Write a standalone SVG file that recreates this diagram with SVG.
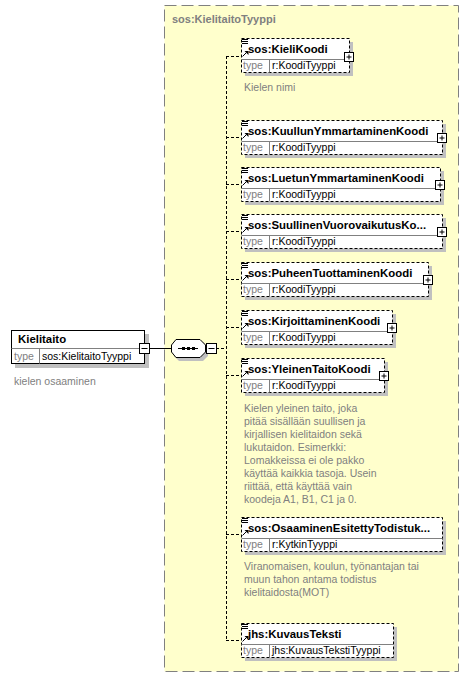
<svg xmlns="http://www.w3.org/2000/svg" width="470" height="679" viewBox="0 0 470 679">
<style>
text{font-family:"Liberation Sans",Arial,sans-serif;}
.t{font-size:11.4px;font-weight:bold;fill:#000;}
.n{font-size:10.5px;fill:#000;}
.g{font-size:10.5px;fill:#808080;}
.hdr{font-size:11px;font-weight:bold;fill:#808080;}
.sh{fill:#C0C0C0;}
.box{fill:#fff;stroke:#000;stroke-width:1;stroke-dasharray:3,2;}
.sbox{fill:#fff;stroke:#000;stroke-width:1;}
.div{stroke:#808080;stroke-width:1;fill:none;}
.ic{stroke:#000;stroke-width:1;fill:none;}
.pm{fill:#fff;stroke:#000;stroke-width:1;}
.dc{stroke:#000;stroke-width:1;fill:none;stroke-dasharray:3,2;}
</style>
<defs>
<g id="menu"><path class="ic" d="M1,1.5H7M1,3.5H7M1,5.5H7"/></g>
<g id="arr"><path class="ic" d="M1.5,18.5L5.5,14.5"/><path d="M3.5,13L7.5,13L7.5,17Z" fill="#000"/></g>
<g id="plus"><rect class="pm" x="0.5" y="0.5" width="9" height="9"/><path class="ic" d="M2.5,5H7.5M5,2.5V7.5"/></g>
</defs>

<g id="type-container">
<rect x="164.5" y="5.5" width="294" height="666" fill="#FFFFCC" stroke="#808080" stroke-width="1" stroke-dasharray="12,5"/>
<text class="hdr" x="172" y="23">sos:KielitaitoTyyppi</text>
</g>

<g id="connectors">
<path d="M149,348.5H171" stroke="#000" stroke-width="1"/>
<path class="dc" d="M216,348.5H226"/>
<path class="dc" d="M226.5,56V640"/>
<path class="dc" d="M226,56.5H241"/>
<path class="dc" d="M226,137.5H241"/>
<path class="dc" d="M226,184.5H241"/>
<path class="dc" d="M226,231.5H241"/>
<path class="dc" d="M226,279.5H241"/>
<path class="dc" d="M226,327.5H241"/>
<path class="dc" d="M226,375.5H241"/>
<path class="dc" d="M226,534.5H241"/>
<path class="dc" d="M226,640.5H241"/>
</g>

<g id="Kielitaito">
<rect class="sh" x="15" y="334" width="134" height="34"/>
<rect class="sbox" x="11.5" y="330.5" width="133" height="33"/>
<path class="div" d="M11.5,348.5H144.5M39.5,348.5V363.5"/>
<text class="t" x="18" y="343">Kielitaito</text>
<text class="g" x="14" y="360">type</text>
<text class="n" x="42" y="360">sos:KielitaitoTyyppi</text>
<rect class="pm" x="139.5" y="343.5" width="10" height="10"/>
<path class="ic" d="M141.5,348.5H147.5"/>
<text class="g" x="14" y="385">kielen osaaminen</text>
</g>

<g id="sequence">
<path class="sh" d="M179,342H203L208,347V356L203,361H179L174,356V347Z"/>
<path d="M176,339.5H200L205.5,345V352L200,357.5H176L171.5,352V345Z" fill="#fff" stroke="#000" stroke-width="1"/>
<path class="ic" d="M178,348.5H198"/>
<rect x="182" y="347" width="3" height="3" fill="#000"/>
<rect x="187" y="347" width="3" height="3" fill="#000"/>
<rect x="192" y="347" width="3" height="3" fill="#000"/>
<rect class="pm" x="206.5" y="343.5" width="10" height="10"/>
<path class="ic" d="M208.5,348.5H214.5"/>
</g>

<g id="KieliKoodi" transform="translate(0,38)">
<rect class="sh" x="245" y="4" width="108" height="34"/>
<rect class="box" x="241.5" y="0.5" width="108" height="34"/>
<path class="div" d="M241.5,21.5H349.5M269.5,21.5V34.5"/>
<use href="#menu" x="241" y="0"/><use href="#arr" x="241" y="0"/>
<text class="t" x="248" y="15">sos:KieliKoodi</text>
<text class="g" x="243" y="31">type</text>
<text class="n" x="272" y="31">r:KoodiTyyppi</text>
<use href="#plus" x="344" y="14"/>
<text class="g" x="244" y="53">Kielen nimi</text>
</g>

<g id="KuullunYmmartaminenKoodi" transform="translate(0,120)">
<rect class="sh" x="245" y="4" width="201" height="34"/>
<rect class="box" x="241.5" y="0.5" width="201" height="34"/>
<path class="div" d="M241.5,21.5H442.5M269.5,21.5V34.5"/>
<use href="#menu" x="241" y="0"/><use href="#arr" x="241" y="0"/>
<text class="t" x="248" y="15">sos:KuullunYmmartaminenKoodi</text>
<text class="g" x="243" y="31">type</text>
<text class="n" x="272" y="31">r:KoodiTyyppi</text>
<use href="#plus" x="437" y="13"/>
</g>

<g id="LuetunYmmartaminenKoodi" transform="translate(0,167)">
<rect class="sh" x="245" y="4" width="199" height="34"/>
<rect class="box" x="241.5" y="0.5" width="199" height="34"/>
<path class="div" d="M241.5,21.5H440.5M269.5,21.5V34.5"/>
<use href="#menu" x="241" y="0"/><use href="#arr" x="241" y="0"/>
<text class="t" x="248" y="15">sos:LuetunYmmartaminenKoodi</text>
<text class="g" x="243" y="31">type</text>
<text class="n" x="272" y="31">r:KoodiTyyppi</text>
<use href="#plus" x="435" y="13"/>
</g>

<g id="SuullinenVuorovaikutusKoodi" transform="translate(0,214)">
<rect class="sh" x="245" y="4" width="201" height="34"/>
<rect class="box" x="241.5" y="0.5" width="201" height="34"/>
<path class="div" d="M241.5,21.5H442.5M269.5,21.5V34.5"/>
<use href="#menu" x="241" y="0"/><use href="#arr" x="241" y="0"/>
<text class="t" x="248" y="15">sos:SuullinenVuorovaikutusKo...</text>
<text class="g" x="243" y="31">type</text>
<text class="n" x="272" y="31">r:KoodiTyyppi</text>
<use href="#plus" x="437" y="13"/>
</g>

<g id="PuheenTuottaminenKoodi" transform="translate(0,262)">
<rect class="sh" x="245" y="4" width="187" height="34"/>
<rect class="box" x="241.5" y="0.5" width="187" height="34"/>
<path class="div" d="M241.5,21.5H428.5M269.5,21.5V34.5"/>
<use href="#menu" x="241" y="0"/><use href="#arr" x="241" y="0"/>
<text class="t" x="248" y="15">sos:PuheenTuottaminenKoodi</text>
<text class="g" x="243" y="31">type</text>
<text class="n" x="272" y="31">r:KoodiTyyppi</text>
<use href="#plus" x="423" y="13"/>
</g>

<g id="KirjoittaminenKoodi" transform="translate(0,310)">
<rect class="sh" x="245" y="4" width="151" height="34"/>
<rect class="box" x="241.5" y="0.5" width="151" height="34"/>
<path class="div" d="M241.5,21.5H392.5M269.5,21.5V34.5"/>
<use href="#menu" x="241" y="0"/><use href="#arr" x="241" y="0"/>
<text class="t" x="248" y="15">sos:KirjoittaminenKoodi</text>
<text class="g" x="243" y="31">type</text>
<text class="n" x="272" y="31">r:KoodiTyyppi</text>
<use href="#plus" x="387" y="13"/>
</g>

<g id="YleinenTaitoKoodi" transform="translate(0,358)">
<rect class="sh" x="245" y="4" width="143" height="34"/>
<rect class="box" x="241.5" y="0.5" width="143" height="34"/>
<path class="div" d="M241.5,21.5H384.5M269.5,21.5V34.5"/>
<use href="#menu" x="241" y="0"/><use href="#arr" x="241" y="0"/>
<text class="t" x="248" y="15">sos:YleinenTaitoKoodi</text>
<text class="g" x="243" y="31">type</text>
<text class="n" x="272" y="31">r:KoodiTyyppi</text>
<use href="#plus" x="379" y="13"/>
<text class="g" x="244" y="53.5">Kielen yleinen taito, joka</text>
<text class="g" x="244" y="66.5">pitää sisällään suullisen ja</text>
<text class="g" x="244" y="79.5">kirjallisen kielitaidon sekä</text>
<text class="g" x="244" y="92.5">lukutaidon. Esimerkki:</text>
<text class="g" x="244" y="105.5">Lomakkeissa ei ole pakko</text>
<text class="g" x="244" y="118.5">käyttää kaikkia tasoja. Usein</text>
<text class="g" x="244" y="131.5">riittää, että käyttää vain</text>
<text class="g" x="244" y="144.5">koodeja A1, B1, C1 ja 0.</text>
</g>

<g id="OsaaminenEsitettyTodistuksella" transform="translate(0,517)">
<rect class="sh" x="245" y="4" width="201" height="34"/>
<rect class="box" x="241.5" y="0.5" width="201" height="34"/>
<path class="div" d="M241.5,21.5H442.5M269.5,21.5V34.5"/>
<use href="#menu" x="241" y="0"/><use href="#arr" x="241" y="0"/>
<text class="t" x="248" y="15">sos:OsaaminenEsitettyTodistuk...</text>
<text class="g" x="243" y="31">type</text>
<text class="n" x="272" y="31">r:KytkinTyyppi</text>
<text class="g" x="244" y="53">Viranomaisen, koulun, työnantajan tai</text>
<text class="g" x="244" y="66">muun tahon antama todistus</text>
<text class="g" x="244" y="79">kielitaidosta(MOT)</text>
</g>

<g id="KuvausTeksti" transform="translate(0,623)">
<rect class="sh" x="245" y="4" width="152" height="34"/>
<rect class="box" x="241.5" y="0.5" width="152" height="34"/>
<path class="div" d="M241.5,21.5H393.5M269.5,21.5V34.5"/>
<use href="#menu" x="241" y="0"/><use href="#arr" x="241" y="0"/>
<text class="t" x="248" y="15">jhs:KuvausTeksti</text>
<text class="g" x="243" y="31">type</text>
<text class="n" x="272" y="31">jhs:KuvausTekstiTyyppi</text>
</g>
</svg>
